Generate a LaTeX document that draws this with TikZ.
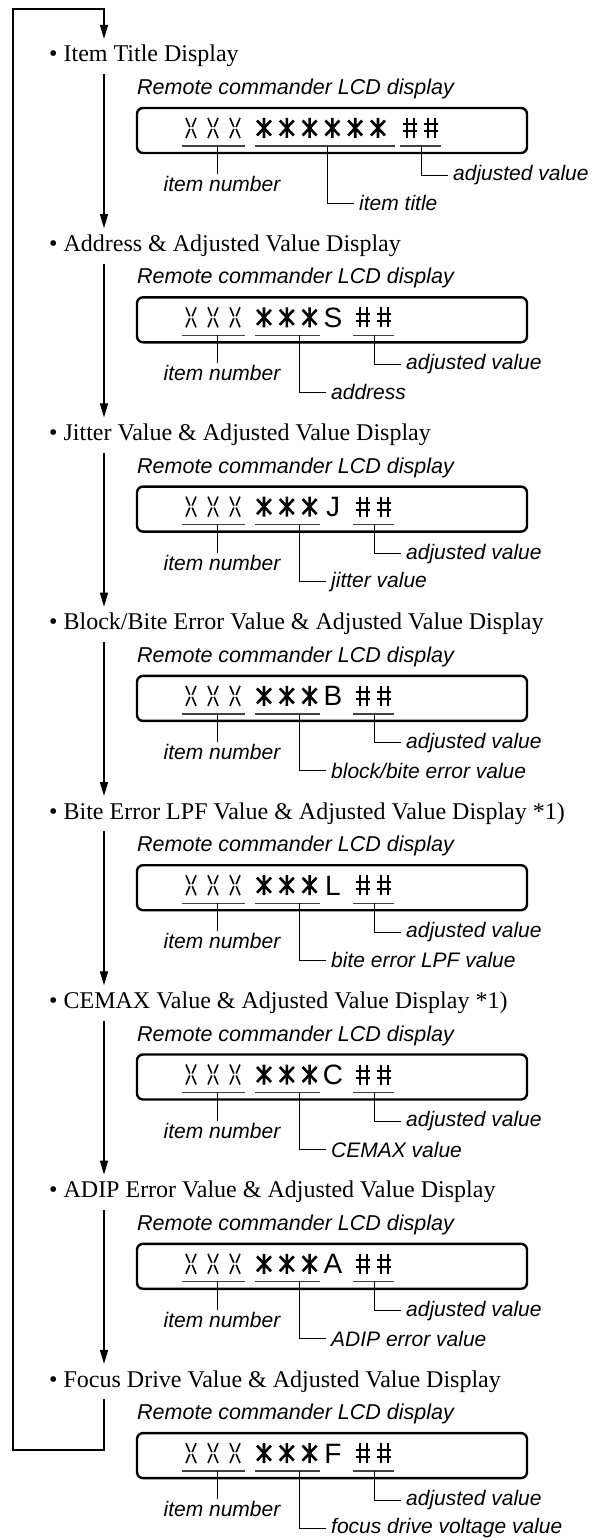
\documentclass[tikz,border=0pt]{standalone}
\usepackage{fontspec}
\setmainfont{Liberation Serif}
\newfontfamily\labelfont{Liberation Sans}
\usepackage{tikz}
\usetikzlibrary{arrows.meta, positioning, calc}

\tikzset{
  flow/.style={line width=1.3bp, -{Triangle[length=14bp,width=8bp]}},
  ttl/.style={anchor=base west, inner xsep=0pt, inner ysep=6bp, text height=17bp, text depth=6bp,
    font=\fontsize{24bp}{28bp}\selectfont},
  caption/.style={anchor=base west, inner sep=0pt, font=\labelfont\itshape\fontsize{21.5bp}{25bp}\selectfont},
  lcdbox/.style={draw, line width=2.4bp, rounded corners=6bp, minimum width=390bp, minimum height=45bp, inner sep=0pt},
  uline/.style={draw=black!75, line width=1.3bp},
  leader/.style={line width=1bp},
  tag/.style={inner xsep=5bp, inner ysep=2bp, font=\labelfont\itshape\fontsize{21bp}{25bp}\selectfont},
  lcdlet/.style={anchor=base, inner sep=0pt, font=\labelfont\fontsize{28bp}{30bp}\selectfont},
  seg/.style={line width=1.6bp},
  segbold/.style={line width=2.6bp},
  pics/lcdx/.style={code={
    \draw[seg] (-5,-10) -- (-1.2,-1) (5,-10) -- (1.2,-1) (-1.2,1) -- (-5,10) (1.2,1) -- (5,10);}},
  pics/lcdstar/.style={code={
    \draw[segbold] (0,-10) -- (0,10) (-7,-7.5) -- (7,7.5) (7,-7.5) -- (-7,7.5);}},
  pics/lcdhash/.style={code={
    \draw[seg, line width=2bp] (-3.5,-10) -- (-3.5,10) (3.5,-10) -- (3.5,10) (-7,-3.5) -- (7,-3.5) (-7,3.5) -- (7,3.5);}},
}

\begin{document}
\begin{tikzpicture}[x=1bp, y=-1bp]
\useasboundingbox (0,0) rectangle (614,1540);

\coordinate (spine) at (104,0);
\coordinate (looptl) at (13,9);
\coordinate (loopbl) at (13,1450);

\foreach \k/\ch/\ttl/\mid/\nstar in {
  1//{Item Title Display}/{item title}/6,
  2/S/{Address \& Adjusted Value Display}/{address}/3,
  3/J/{Jitter Value \& Adjusted Value Display}/{jitter value}/3,
  4/B/{Block/Bite Error Value \& Adjusted Value Display}/{block/bite error value}/3,
  5/L/{Bite Error LPF Value \& Adjusted Value Display *1)}/{bite error LPF value}/3,
  6/C/{CEMAX Value \& Adjusted Value Display *1)}/{CEMAX value}/3,
  7/A/{ADIP Error Value \& Adjusted Value Display}/{ADIP error value}/3,
  8/F/{Focus Drive Value \& Adjusted Value Display}/{focus drive voltage value}/3}{
  \pgfmathsetmacro\B{62+189.3*(\k-1)}
  \ifnum\nstar=6 \def\hx{410}\def\mx{327}\def\sx{395}\else \def\hx{363}\def\mx{299}\def\sx{320}\fi
  \node[ttl] (t\k) at (49,\B) {\textbullet\ \ttl};
  \node[caption] (rem\k) at (137,\B+32.5) {Remote commander LCD display};
  \node[lcdbox] (lcd\k) at (332,\B+68.5) {};
  % display characters
  \foreach \x in {191,213,235} \pic at (\x,\B+66) {lcdx};
  \foreach \i in {1,...,\nstar} \pic at ({264+22.8*(\i-1)},\B+66) {lcdstar};
  \ifnum\nstar=3 \node[lcdlet] (c\k) at (333,\B+76) {\ch}; \fi
  \pic at (\hx,\B+66) {lcdhash};
  \pic at (\hx+21,\B+66) {lcdhash};
  % underlines
  \draw[uline] (182,\B+84) -- (245,\B+84);
  \draw[uline] (255,\B+84) -- (\sx,\B+84);
  \draw[uline] (\hx-10,\B+84) -- (\hx+31,\B+84);
  \coordinate (nu\k) at (217,\B+84);
  \coordinate (mu\k) at (\mx,\B+84);
  \coordinate (au\k) at (\hx+11,\B+84);
  % labels
  \node[tag] (num\k) at (222,\B+122) {item number};
  \node[tag, anchor=west] (adj\k) at (\hx+38,\B+113) {adjusted value};
  \node[tag, anchor=west] (mid\k) at (\mx+27,\B+141) {\mid};
  \draw[leader] (nu\k) -- (nu\k |- num\k.north);
  \draw[leader] (au\k) |- (adj\k.west);
  \draw[leader] (mu\k) |- (mid\k.west);
}

\foreach \k [evaluate=\k as \n using int(\k+1)] in {1,...,7}
  \draw[flow] (t\k.south -| spine) -- (t\n.north -| spine);
\draw[flow] (t8.south -| spine) |- (loopbl) -- (looptl) -| (t1.north -| spine);
\end{tikzpicture}
\end{document}
